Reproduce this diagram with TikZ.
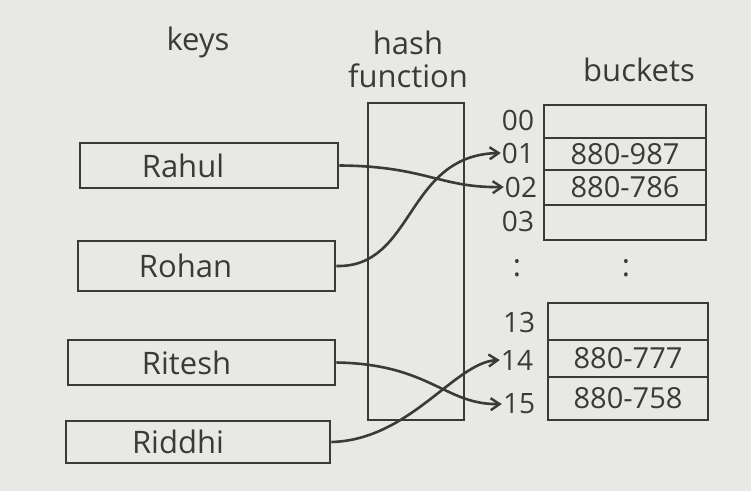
\documentclass[tikz,border=0pt]{standalone}
\usepackage{fontspec}
\setmainfont{Open Sans}
\usetikzlibrary{arrows.meta}
\definecolor{paper}{HTML}{E8E8E4}
\definecolor{ink}{HTML}{3A3A3A}
\begin{document}
\begin{tikzpicture}[x=1pt,y=-1pt,
  ink/.style={draw=ink,line width=2.6pt},
  keybox/.style={ink,minimum height=45pt,inner sep=0pt},
  hand/.style={text=ink,font=\fontsize{31}{33}\selectfont},
  small/.style={text=ink,font=\fontsize{28}{30}\selectfont,inner sep=1pt},
  cell/.style={ink,line width=2.2pt,minimum width=162pt,inner sep=0pt,font=\fontsize{29}{31}\selectfont,text=ink},
  conn/.style={draw=ink,line width=2.6pt,-{Straight Barb[length=9pt,width=12pt,line width=2.4pt]}}]
\fill[paper] (0,0) rectangle (751,491);
\useasboundingbox (0,0) rectangle (751,491);
% headers
\node[hand] (hkeys) at (198,42) {keys};
\node[hand] (hhash) at (408,43) {hash};
\node[hand] (hfunc) at (408,76) {function};
\node[hand] (hbuck) at (639,70) {buckets};
% hash function box
\node[ink,minimum width=96pt,minimum height=317pt,inner sep=0pt] (hf) at (416,261.5) {};
% keys
\node[keybox,minimum width=258pt,label={[hand,xshift=-26pt]center:Rahul}] (rahul) at (209,165.5) {};
\node[keybox,minimum width=257pt,minimum height=50pt,label={[hand,xshift=-21pt]center:Rohan}] (rohan) at (206.5,266) {};
\node[keybox,minimum width=267pt,label={[hand,xshift=-15pt]center:Ritesh}] (ritesh) at (201.5,362.5) {};
\node[keybox,minimum width=264pt,minimum height=42pt,label={[hand,xshift=-20pt]center:Riddhi}] (riddhi) at (198,442) {};
% upper buckets
\node[cell,minimum height=33pt] (b00) at (625,121.5) {};
\node[cell,minimum height=32pt] (b01) at (625,154) {880-987};
\node[cell,minimum height=35pt] (b02) at (625,187.5) {880-786};
\node[cell,minimum height=35pt] (b03) at (625,222.5) {};
\node[small] (l00) at (518,120) {00};
\node[small] (l01) at (518,153) {01};
\node[small] (l02) at (521,187) {02};
\node[small] (l03) at (518,221) {03};
% dots
\node[hand] (d1) at (517,268) {:};
\node[hand] (d2) at (626,268) {:};
% lower buckets
\node[cell,minimum height=37pt,minimum width=160pt] (b13) at (628,321.5) {};
\node[cell,minimum height=37pt,minimum width=160pt] (b14) at (628,358.5) {880-777};
\node[cell,minimum height=43pt,minimum width=160pt] (b15) at (628,398.5) {880-758};
\node[small] (l13) at (519,322) {13};
\node[small] (l14) at (517,360) {14};
\node[small] (l15) at (519,404) {15};
% connectors
\draw[conn] (rahul.east) .. controls (425,166) and (440,188) .. (l02.west);
\draw[conn] (rohan.east) .. controls (415,268) and (405,155) .. (l01.west);
\draw[conn] (ritesh.east) .. controls (430,364) and (445,405) .. (l15.west);
\draw[conn] (riddhi.east) .. controls (410,440) and (455,362) .. (l14.west);
\end{tikzpicture}
\end{document}
